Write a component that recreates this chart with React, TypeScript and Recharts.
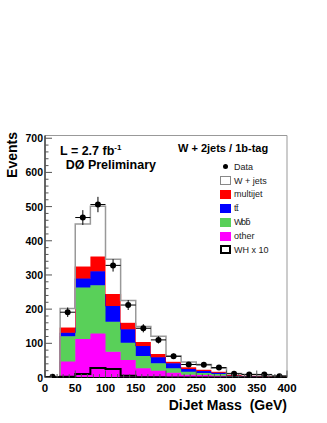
import React from 'react';
import {
  ComposedChart,
  Area,
  Line,
  Scatter,
  ErrorBar,
  XAxis,
  YAxis,
  ReferenceArea,
  Legend,
} from 'recharts';

// dijet mass bins, 25 GeV wide
const binLow = [0, 25, 50, 75, 100, 125, 150, 175, 200, 225, 250, 275, 300, 325, 350, 375];
const binHigh = 400;

// stacked MC components (events per bin)
const other = [1, 47, 113, 129, 75, 51, 27, 20, 14, 8, 7, 5, 2, 1, 1, 1];
const wbb = [0, 74, 150, 141, 88, 51, 36, 22, 13, 9, 6, 5, 2, 2, 1, 0];
const ttbar = [0, 10, 27, 41, 46, 39, 29, 17, 15, 8, 6, 4, 2, 1, 1, 1];
const multijet = [1, 15, 35, 43, 35, 19, 12, 10, 4, 5, 4, 3, 1, 1, 1, 1];
const wjets = [0, 56, 124, 147, 102, 65, 45, 52, 17, 15, 15, 10, 5, 4, 3, 2];
const whX10 = [0, 2, 10, 28, 25, 5, 1, 1, 0, 0, 0, 0, 0, 0, 0, 0];
const dataCounts = [2, 191, 468, 506, 328, 212, 144, 110, 62, 38, 37, 29, 11, 9, 9, 4];

const xTickLabels = [0, 50, 100, 150, 200, 250, 300, 350, 400];
const yTickLabels = [0, 100, 200, 300, 400, 500, 600, 700];

const font = '"Liberation Sans", Arial, Helvetica, sans-serif';
const colors = {
  other: '#ff00ff',
  wbb: '#59d059',
  tt: '#0000ff',
  multijet: '#ff0000',
  wjets: '#ffffff',
};

// one row per bin edge, closing edge repeats the last bin for the step
const histRows = [...binLow, binHigh].map((x, i) => {
  const j = Math.min(i, binLow.length - 1);
  return {
    x,
    other: other[j],
    wbb: wbb[j],
    tt: ttbar[j],
    multijet: multijet[j],
    wjets: wjets[j],
    wh: whX10[j],
  };
});

const halfBin = (binLow[1] - binLow[0]) / 2;
const dataPoints = binLow.map((lo, i) => ({
  x: lo + halfBin,
  y: dataCounts[i],
  ex: halfBin,
  ey: Math.sqrt(dataCounts[i]),
}));

// major ticks from the label lists, 5 subdivisions in between
const withMinor = (majors: number[], parts: number) => {
  const out: number[] = [];
  for (let i = 0; i < majors.length - 1; i++) {
    const step = (majors[i + 1] - majors[i]) / parts;
    for (let k = 0; k < parts; k++) out.push(majors[i] + k * step);
  }
  out.push(majors[majors.length - 1]);
  return out;
};
const yTicks = withMinor(yTickLabels, 5);
const xTicks = withMinor(xTickLabels, 5);

const YTick = (props: any) => {
  const { x, y, payload } = props;
  const major = yTickLabels.includes(payload.value);
  return (
    <g>
      <line x1={x} x2={x + (major ? 7 : 3.5)} y1={y} y2={y} stroke="#555" />
      {major && (
        <text x={x - 2} y={y + 4} textAnchor="end" fontFamily={font} fontWeight="bold" fontSize={10.5} fill="#000">
          {payload.value}
        </text>
      )}
    </g>
  );
};

const XTick = (props: any) => {
  const { x, y, payload } = props;
  const major = xTickLabels.includes(payload.value);
  return (
    <g>
      <line x1={x} x2={x} y1={y} y2={y - (major ? 7 : 3.5)} stroke="#555" />
      {major && (
        <text x={x} y={y + 14} textAnchor="middle" fontFamily={font} fontWeight="bold" fontSize={11.5} fill="#000">
          {payload.value}
        </text>
      )}
    </g>
  );
};

const legendRows = [
  { label: 'Data', fill: 'dot', border: '' },
  { label: 'W + jets', fill: colors.wjets, border: '1px solid #888' },
  { label: 'multijet', fill: colors.multijet, border: 'none' },
  { label: 't t\u0304', fill: colors.tt, border: 'none' },
  { label: 'Wb b\u0304', fill: colors.wbb, border: 'none' },
  { label: 'other', fill: colors.other, border: 'none' },
  { label: 'WH x 10', fill: '#fff', border: '2px solid #000' },
];

const LegendBox = () => (
  <div style={{ fontFamily: font, fontSize: 9, color: '#222' }}>
    {legendRows.map((r) => (
      <div key={r.label} style={{ display: 'flex', alignItems: 'center', height: 13.9 }}>
        <div style={{ width: 11, height: 9, display: 'flex', alignItems: 'center', justifyContent: 'center', boxSizing: 'border-box' }}>
          {r.fill === 'dot' ? (
            <div style={{ width: 5, height: 5, borderRadius: 3, background: '#000' }} />
          ) : (
            <div style={{ width: 11, height: 9, background: r.fill, border: r.border, boxSizing: 'border-box' }} />
          )}
        </div>
        <span style={{ marginLeft: 3, whiteSpace: 'nowrap', letterSpacing: r.label.startsWith('t') || r.label.startsWith('Wb') ? -1.5 : 0 }}>
          {r.label}
        </span>
      </div>
    ))}
  </div>
);

export default function App() {
  return (
    <div style={{ position: 'absolute', left: 0, top: 0, width: 327, height: 423, background: '#fff' }}>
      <ComposedChart
        width={327}
        height={423}
        data={histRows}
        margin={{ top: 135.5, right: 40, bottom: 0, left: 0 }}
      >
        <ReferenceArea x1={0} x2={400} y1={0} y2={708} fill="none" stroke="#999" />
        <XAxis
          dataKey="x"
          type="number"
          domain={[0, 400]}
          ticks={xTicks}
          interval={0}
          tick={<XTick />}
          tickLine={false}
          tickSize={0}
          tickMargin={0}
          height={45.5}
          axisLine={{ stroke: '#000' }}
          allowDataOverflow
          label={{
            content: (p: any) => (
              <text
                x={p.viewBox.x + p.viewBox.width}
                y={p.viewBox.y + 32.5}
                textAnchor="end"
                fontFamily={font}
                fontWeight="bold"
                fontSize={14}
                fill="#000"
                style={{ whiteSpace: 'pre' }}
              >
                {'DiJet Mass  (GeV)'}
              </text>
            ),
          }}
        />
        <YAxis
          type="number"
          domain={[0, 708]}
          ticks={yTicks}
          interval={0}
          tick={<YTick />}
          tickLine={false}
          tickSize={0}
          tickMargin={0}
          width={45}
          axisLine={{ stroke: '#000' }}
          allowDataOverflow
          label={{
            content: () => (
              <text
                x={17}
                y={132}
                transform="rotate(-90 17 132)"
                textAnchor="end"
                fontFamily={font}
                fontWeight="bold"
                fontSize={14}
                fill="#000"
              >
                Events
              </text>
            ),
          }}
        />
        <Area type="stepAfter" dataKey="other" stackId="mc" fill={colors.other} fillOpacity={1} stroke={colors.other} strokeWidth={1} dot={false} activeDot={false} isAnimationActive={false} />
        <Area type="stepAfter" dataKey="wbb" stackId="mc" fill={colors.wbb} fillOpacity={1} stroke={colors.wbb} strokeWidth={1} dot={false} activeDot={false} isAnimationActive={false} />
        <Area type="stepAfter" dataKey="tt" stackId="mc" fill={colors.tt} fillOpacity={1} stroke={colors.tt} strokeWidth={1} dot={false} activeDot={false} isAnimationActive={false} />
        <Area type="stepAfter" dataKey="multijet" stackId="mc" fill={colors.multijet} fillOpacity={1} stroke={colors.multijet} strokeWidth={1} dot={false} activeDot={false} isAnimationActive={false} />
        <Area type="stepAfter" dataKey="wjets" stackId="mc" fill={colors.wjets} fillOpacity={1} stroke="#999" strokeWidth={1.5} dot={false} activeDot={false} isAnimationActive={false} />
        <Line type="stepAfter" dataKey="wh" stroke="#000" strokeWidth={2} dot={false} activeDot={false} isAnimationActive={false} />
        <Scatter
          data={dataPoints}
          dataKey="y"
          isAnimationActive={false}
          shape={(p: any) => <circle cx={p.cx} cy={p.cy} r={3} fill="#000" />}
        >
          <ErrorBar dataKey="ey" direction="y" width={0} stroke="#000" strokeWidth={1} />
          <ErrorBar dataKey="ex" direction="x" width={0} stroke="#000" strokeWidth={1} />
        </Scatter>
        <Legend
          layout="vertical"
          align="center"
          verticalAlign="middle"
          content={() => <LegendBox />}
          wrapperStyle={{ left: 220, top: 159.7, width: 80 }}
        />
      </ComposedChart>

      <div style={{ position: 'absolute', left: 60, top: 146, height: 11, fontFamily: font, fontWeight: 'bold', fontSize: 12.5, lineHeight: '11px', whiteSpace: 'nowrap' }}>
        L = 2.7 fb
        <span style={{ position: 'relative', top: -5, fontSize: 8, lineHeight: 0 }}>-1</span>
      </div>
      <div style={{ position: 'absolute', left: 65.7, top: 159.5, height: 11, fontFamily: font, fontWeight: 'bold', fontSize: 12.5, lineHeight: '11px', whiteSpace: 'nowrap' }}>
        DØ Preliminary
      </div>
      <div style={{ position: 'absolute', left: 178, top: 143.4, fontFamily: font, fontWeight: 'bold', fontSize: 11, lineHeight: 1, whiteSpace: 'nowrap' }}>
        W + 2jets / 1b-tag
      </div>
    </div>
  );
}
